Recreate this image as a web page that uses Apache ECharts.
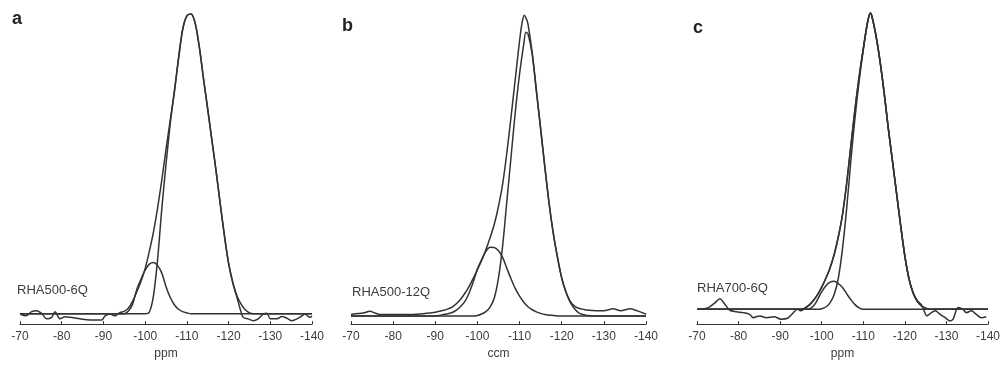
<!DOCTYPE html>
<html><head><meta charset="utf-8">
<script src="https://cdn.jsdelivr.net/npm/echarts@6/dist/echarts.min.js"></script>
<style>html,body{margin:0;padding:0;background:#fff}#c{width:1003px;height:365px}</style>
</head><body><div id="c"></div>
<script>
// ---------- DATA (ppm, intensity in % of tallest peak of each panel) ----------
const xTickMin = -140, xTickMax = -70, xTickStep = 10;
const panelLetters = ['a', 'b', 'c'];
const sampleNames = ['RHA500-6Q', 'RHA500-12Q', 'RHA700-6Q'];
const axisNames = ['ppm', 'ccm', 'ppm'];

// Panel a
const aExpPpm = [-70,-71.4,-72.8,-74,-75.2,-76.4,-77.6,-78.4,-79.6,-80.8,-82,-84.4,-86.8,-88.5,-89.6,-90.4,-91.6,-92.8,-94,-95,-96,-97,-98,-99,-100,-101,-102,-103,-104,-105,-106,-107,-108,-109,-110,-111,-112,-113,-114,-115,-116,-117,-118,-119,-120,-121,-122,-122.8,-123.5,-124.7,-125.9,-127.1,-128.3,-129.2,-130,-131.6,-132.8,-134,-135.2,-136.4,-137.6,-138.3,-139.5,-140];
const aExpVal = [-0.1,-0.7,0.7,1.0,0.1,-1.7,-1.2,0.7,-1.7,-1.0,-1.2,-1.7,-2.1,-2.1,-2.1,-0.7,-0.1,-0.7,0.4,0.8,1.9,4.2,7.3,10.7,15,20.7,27.2,35.3,44.5,54.6,64.2,73.5,85,94.5,99,99.6,96.5,88.5,78,68,57.7,47.5,36.5,26,16.8,10.4,5.5,1.5,-1.2,-1.7,-2.3,-1.7,-0.1,0.2,-1.7,-1.7,-0.9,-1.5,-2.3,-1.7,-0.7,-0.1,-1.2,-0.8];
const aMainPpm = [-70,-100,-101,-102,-103,-104,-105,-106,-107,-108,-109,-110,-111,-112,-113,-114,-115,-116,-117,-118,-119,-120,-121,-122,-123,-124,-125,-126,-140];
const aMainVal = [0,0,0.5,6,18.3,35,49.6,63,74,84.5,94.5,99,99.6,96.5,88.5,78,68,57.7,47.5,36.5,26,16.8,10.4,6,3.2,1.3,0.3,0,0];
const aSmallPpm = [-70,-95,-96,-97,-98,-99,-100,-101,-102,-103,-104,-105,-106,-107,-108,-109,-110,-111,-140];
const aSmallVal = [0,0,0.9,3.2,8.1,11.5,14.5,16.5,17,16,13.5,9,5.5,3,1.5,0.7,0.3,0,0];

// Panel b
const bExpPpm = [-70,-71,-72.9,-74.5,-75.7,-76.9,-80,-84,-88,-90,-91,-92,-93,-94,-95,-96,-97,-98,-99,-100,-101,-102,-103,-104,-105,-106,-107,-108,-109,-110,-110.6,-111.1,-111.7,-112,-113,-114,-115,-116,-117,-118,-119,-120,-121,-122,-123,-124,-125,-126,-128.3,-130,-132.2,-134,-136.2,-137.8,-139.8,-140];
const bExpVal = [0.5,0.8,1.0,1.6,1.0,0.5,0.5,0.5,0.9,1.3,1.6,1.9,2.4,3.0,4.1,5.6,7.5,9.8,12.5,15.5,18.5,22,26,30.5,36.5,44,54.5,66.5,79,91.5,97.5,100,98.5,97,87.5,75,62.5,49.5,37.5,27.5,19.5,12.7,8,5,3.3,2.6,2.3,2.0,1.8,1.8,2.4,1.8,2.4,1.8,0.75,0.6];
const bMainPpm = [-70,-99,-100,-101,-102,-103,-104,-105,-106,-107,-108,-109,-110,-111,-111.5,-112,-113,-114,-115,-116,-117,-118,-119,-120,-121,-122,-123,-124,-125,-126,-127,-140];
const bMainVal = [0,0,0.2,0.7,1.5,3,6,12.7,23.6,38.4,53.2,68,80.5,90.5,94.3,93.8,87,74.5,62,49.5,37.5,27.5,19.4,12.6,8,4.6,2.5,1.1,0.5,0.2,0,0];
const bSmallPpm = [-70,-90,-91,-92,-93,-94,-95,-96,-97,-98,-99,-100,-101,-102,-103,-104,-105,-106,-107,-108,-109,-110,-111,-112,-113,-114,-115,-116,-117,-118,-120,-140];
const bSmallVal = [0,0,0.2,0.5,0.8,1.2,2,3.2,4.8,7.6,11.3,15.6,18.8,21.5,22.9,22.8,21.7,19.4,15.8,12.3,9.1,6.6,4.6,3.1,2.1,1.4,0.9,0.5,0.3,0.2,0,0];

// Panel c
const cExpPpm = [-70.3,-72.7,-74.3,-75.5,-76.7,-77.9,-79.5,-81.1,-82.7,-83.5,-85.1,-86.7,-88.6,-90.2,-91.8,-93,-94.2,-95,-96.2,-97,-98,-99,-100,-101,-102,-103,-104,-105,-106,-107,-108,-109,-110,-111,-111.7,-112,-113,-114,-115,-116,-117,-118,-119,-120,-121,-122,-123,-124,-124.5,-125.3,-126.1,-127.3,-128.5,-129.7,-130.9,-131.6,-132.8,-134,-134.8,-136,-137.2,-138.4,-139.6];
const cExpVal = [0,0.6,2.2,3.6,1.7,-0.3,-0.8,-1.1,-1.7,-2.8,-2.2,-2.8,-2.5,-3.3,-3.0,-1.4,0,-0.5,0.6,1.4,3,5,7.5,10.5,14,18.5,24.5,32,42.5,55,67.5,78.5,88,96.7,100,99.3,92.8,84,73.3,61.3,50.3,39.2,28.2,18,10.3,5.5,2.9,1.5,0,-2.2,-1.4,-0.5,-1.7,-2.8,-3.9,-3.3,0.6,0,-1.1,-0.5,-1.7,-2.8,-2.5];
const cFitPpm = [-70,-95,-96,-97,-98,-99,-100,-101,-102,-103,-104,-105,-106,-107,-108,-109,-110,-111,-111.7,-112,-113,-114,-115,-116,-117,-118,-119,-120,-121,-122,-123,-124,-125,-126,-140];
const cFitVal = [0,0,0.5,1.5,3,5,7.5,10.5,14,18.5,24.5,32,42.5,55,67.5,78.5,88,96.7,100,99.3,92.8,84,73.3,61.3,50.3,39.2,28.2,18,10.3,5.5,2.7,1.2,0.4,0,0];
const cMainPpm = [-70,-99,-100,-101,-102,-103,-104,-105,-106,-107,-108,-109,-110,-111,-111.7,-112,-113,-114,-115,-116,-117,-118,-119,-120,-121,-122,-123,-124,-125,-126,-140];
const cMainVal = [0,0,0.2,0.8,2.2,5,10.5,20.5,34,50,64.5,77,87.5,96.5,100,99.3,92.8,84,73.3,61.3,50.3,39.2,28.2,18,10.3,5.5,2.7,1.2,0.4,0,0];
const cSmallPpm = [-70,-96.5,-97.5,-98.5,-99.8,-101,-102,-103,-104,-105,-106,-107,-108,-109,-110,-140];
const cSmallVal = [0,0,0.5,2,5.5,8,9.2,9.5,8.7,7.4,5.3,3.3,1.6,0.5,0,0];

// ---------- LAYOUT ----------
const panels = [
  {left:20, right:312, axisY:328.5, zeroY:318, peakY:13,
   series:[[aExpPpm,aExpVal],[aMainPpm,aMainVal],[aSmallPpm,aSmallVal]],
   letter:[12,19], label:[17,291]},
  {left:351, right:646, axisY:330.5, zeroY:322.3, peakY:15.5,
   series:[[bExpPpm,bExpVal],[bMainPpm,bMainVal],[bSmallPpm,bSmallVal]],
   letter:[342,26], label:[352,293]},
  {left:697, right:990, axisY:330, zeroY:315, peakY:13.3,
   series:[[cExpPpm,cExpVal],[cFitPpm,cFitVal],[cMainPpm,cMainVal],[cSmallPpm,cSmallVal]],
   letter:[693,28], label:[697,289]}
];
const lineColor = '#333';
const textColor = '#3c3c3c';
const font = 'Liberation Sans, Arial, sans-serif';

const zip = (xs, ys) => xs.map((x, i) => [x, ys[i]]);
const grid = [], xAxis = [], yAxis = [], series = [], graphic = [];
panels.forEach((p, i) => {
  const unitPx = (p.zeroY - p.peakY) / 100;
  grid.push({left: p.left, width: p.right - p.left, top: 0, height: p.axisY});
  xAxis.push({
    type:'value', gridIndex:i, min:xTickMin, max:xTickMax, interval:xTickStep, inverse:true,
    axisLine:{onZero:false, lineStyle:{color:lineColor, width:1.2}},
    axisTick:{inside:true, length:3, lineStyle:{color:lineColor}},
    axisLabel:{color:textColor, fontSize:12, fontFamily:font, margin:7},
    splitLine:{show:false},
    name: axisNames[i], nameLocation:'middle', nameGap:21,
    nameTextStyle:{color:textColor, fontSize:12, fontFamily:font}
  });
  yAxis.push({type:'value', gridIndex:i, show:false,
    min: -(p.axisY - p.zeroY) / unitPx, max: p.zeroY / unitPx});
  p.series.forEach(s => series.push({
    type:'line', xAxisIndex:i, yAxisIndex:i, data: zip(s[0], s[1]),
    symbol:'none', smooth:0.3, clip:false,
    lineStyle:{color:lineColor, width:1.5}
  }));
  graphic.push({type:'text', left:p.letter[0], top:p.letter[1]-9,
    style:{text:panelLetters[i], fill:'#222', font:'bold 18px ' + font}});
  graphic.push({type:'text', left:p.label[0], top:p.label[1]-7,
    style:{text:sampleNames[i], fill:textColor, font:'13px ' + font}});
});

const chart = echarts.init(document.getElementById('c'), null, {renderer:'canvas'});
chart.setOption({animation:false, backgroundColor:'#fff', grid, xAxis, yAxis, series, graphic});
</script></body></html>
